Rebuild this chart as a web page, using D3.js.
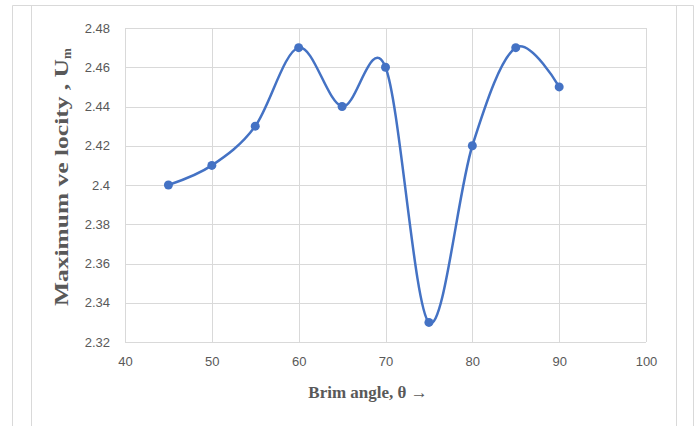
<!DOCTYPE html>
<html>
<head>
<meta charset="utf-8">
<script src="https://cdn.jsdelivr.net/npm/d3@7"></script>
<style>
  body { margin: 0; background: #fff; }
  svg { display: block; }
</style>
</head>
<body>
<script>
// brim angle vs max velocity
const angles = [45, 50, 55, 60, 65, 70, 75, 80, 85, 90];
const velocity = [2.40, 2.41, 2.43, 2.47, 2.44, 2.46, 2.33, 2.42, 2.47, 2.45];
const xTicks = [40, 50, 60, 70, 80, 90, 100];
const yTicks = [2.32, 2.34, 2.36, 2.38, 2.40, 2.42, 2.44, 2.46, 2.48];

let width = 697;
let height = 426;
const svg = d3.select("body").append("svg")
              .attr("width", width)
              .attr("height", height);

// outer frame lines
const frame = svg.append("g").attr("stroke", "#d9d9d9").attr("stroke-width", 1);
frame.append("line").attr("x1", 12.5).attr("x2", 693.5).attr("y1", 5.5).attr("y2", 5.5);
[12.5, 31.5, 676.5, 693.5].forEach(x => {
  frame.append("line").attr("x1", x).attr("x2", x).attr("y1", 5.5).attr("y2", height);
});

let xScale = d3.scaleLinear().domain([40, 100]).range([125, 646]);
let yScale = d3.scaleLinear().domain([2.32, 2.48]).range([342, 28]);

// gridlines
let grid = svg.append("g").attr("stroke", "#d9d9d9").attr("stroke-width", 1);
grid.selectAll("line.h").data(yTicks).enter().append("line")
    .attr("x1", 125).attr("x2", 646)
    .attr("y1", d => Math.round(yScale(d)) + 0.5)
    .attr("y2", d => Math.round(yScale(d)) + 0.5);
grid.selectAll("line.v").data(xTicks).enter().append("line")
    .attr("y1", 28).attr("y2", 342)
    .attr("x1", d => Math.round(xScale(d)) + 0.5)
    .attr("x2", d => Math.round(xScale(d)) + 0.5);

// axes (labels only)
let yAxis = d3.axisLeft(yScale).tickValues(yTicks).tickSize(0).tickPadding(15)
              .tickFormat(d => d3.format("")(+d.toFixed(2)));
let xAxis = d3.axisBottom(xScale).tickValues(xTicks).tickSize(0).tickPadding(15);

svg.append("g").attr("transform", "translate(125,0)").call(yAxis)
   .call(g => g.select(".domain").remove());
svg.append("g").attr("transform", "translate(0,342)").call(xAxis)
   .call(g => g.select(".domain").remove());
svg.selectAll(".tick text")
   .attr("fill", "#595959")
   .style("font-family", "'Liberation Sans', Arial, sans-serif")
   .style("font-size", "13px");

// smoothed line, excel style
let pts = angles.map((a, i) => [a, velocity[i]]);
let line = d3.line()
             .x(d => xScale(d[0]))
             .y(d => yScale(d[1]))
             .curve(d3.curveCardinal.tension(0));
svg.append("path").datum(pts)
   .attr("d", line)
   .attr("fill", "none")
   .attr("stroke", "#4472c4")
   .attr("stroke-width", 2.5)
   .attr("stroke-linejoin", "round");

svg.selectAll("circle.pt").data(pts).enter().append("circle")
   .attr("cx", d => xScale(d[0]))
   .attr("cy", d => yScale(d[1]))
   .attr("r", 4.5)
   .attr("fill", "#4472c4");

// axis titles
svg.append("text")
   .attr("x", 368).attr("y", 398)
   .attr("text-anchor", "middle")
   .attr("fill", "#595959")
   .style("font-family", "'Liberation Serif', 'Times New Roman', serif")
   .style("font-weight", "bold")
   .style("font-size", "17px")
   .text("Brim angle, \u03b8 \u2192");

let yt = svg.append("text")
   .attr("transform", "translate(68,306) rotate(-90)")
   .attr("fill", "#595959")
   .style("font-family", "'Liberation Serif', 'Times New Roman', serif")
   .style("font-weight", "bold")
   .style("font-size", "19px");
yt.append("tspan")
  .attr("textLength", 247)
  .attr("lengthAdjust", "spacingAndGlyphs")
  .text("Maximum ve locity , U");
yt.append("tspan").attr("dy", 3).style("font-size", "13px").text("m");
</script>
</body>
</html>
